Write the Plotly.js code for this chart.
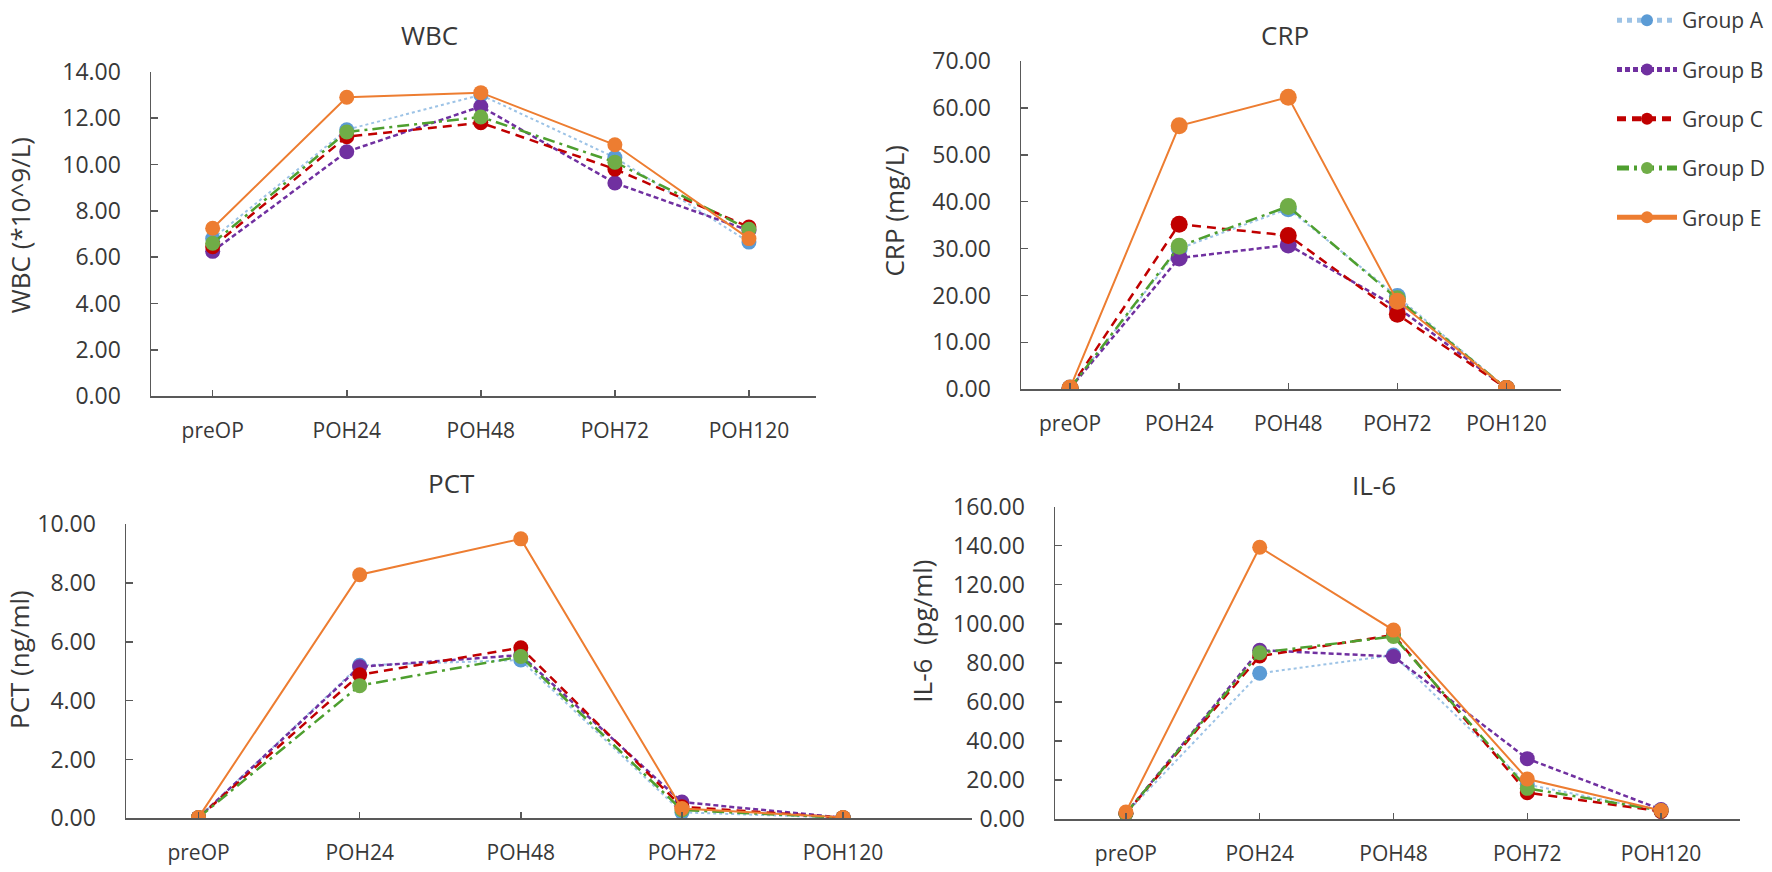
<!DOCTYPE html>
<html>
<head>
<meta charset="utf-8">
<script src="https://cdn.plot.ly/plotly-3.0.1.min.js"></script>
<style>
  html, body { margin: 0; padding: 0; background: #fff; }
  #plotly_div { width: 1772px; height: 872px; }
</style>
</head>
<body>
<div id="plotly_div"></div>
<script>
// values, one row per group (A..E)
const categories = ['preOP', 'POH24', 'POH48', 'POH72', 'POH120'];
const groups = ['Group A', 'Group B', 'Group C', 'Group D', 'Group E'];

const wbc = [
    [6.8, 11.5, 13.0, 10.3, 6.65],
    [6.25, 10.55, 12.5, 9.2, 7.15],
    [6.45, 11.2, 11.8, 9.8, 7.3],
    [6.6, 11.4, 12.05, 10.1, 7.2],
    [7.25, 12.9, 13.1, 10.85, 6.8]
];
const crp = [
    [0.3, 30.0, 38.5, 19.8, 0.2],
    [0.2, 28.0, 30.8, 17.5, 0.2],
    [0.2, 35.2, 32.8, 16.0, 0.2],
    [0.2, 30.5, 39.0, 19.3, 0.2],
    [0.3, 56.2, 62.3, 18.8, 0.2]
];
const pct = [
    [0.02, 5.2, 5.38, 0.2, 0.02],
    [0.02, 5.15, 5.55, 0.55, 0.02],
    [0.02, 4.88, 5.8, 0.39, 0.02],
    [0.02, 4.51, 5.5, 0.28, 0.02],
    [0.03, 8.28, 9.5, 0.33, 0.03]
];
const il6 = [
    [3.0, 74.7, 84.0, 17.8, 4.0],
    [3.0, 86.5, 83.3, 31.0, 5.0],
    [3.0, 83.5, 94.3, 13.6, 4.0],
    [3.0, 85.2, 93.5, 15.8, 4.5],
    [3.7, 139.2, 96.8, 20.6, 4.5]
];

const W = 1772, H = 872;

// series styles
const lineColors = ['#9DC3E6', '#7030A0', '#C00000', '#4E9F2F', '#ED7D31'];
const markerColors = ['#5B9BD5', '#7030A0', '#C00000', '#70AD47', '#ED7D31'];
const dashes = ['dot', '5px,3px', '9px,6px', '12px,5px,3px,5px', 'solid'];
const widths = [2, 2.5, 2.5, 2.5, 2];

// plot boxes in pixels: [left, top, right, bottom]
const panels = [
    {name: 'WBC', ytitle: 'WBC (*10^9/L)', values: wbc, range: [0, 14], dtick: 2,
     box: [151, 53, 816, 385], xrange: [-0.46, 4.5], msize: 15,
     titleX: 429, titleY: 15, ytitleX: 20, ytitleY: 210},
    {name: 'CRP', ytitle: 'CRP (mg/L)', values: crp, range: [0, 70], dtick: 10,
     box: [1021, 42, 1561, 378], xrange: [-0.45, 4.5], msize: 17,
     titleX: 1285, titleY: 15, ytitleX: 894, ytitleY: 196},
    {name: 'PCT', ytitle: 'PCT (ng/ml)', values: pct, range: [0, 10], dtick: 2,
     box: [126, 516, 972, 817], xrange: [-0.45, 4.8], msize: 15,
     titleX: 452, titleY: 474, ytitleX: 19, ytitleY: 655},
    {name: 'IL-6', ytitle: 'IL-6  (pg/ml)', values: il6, range: [0, 160], dtick: 20,
     box: [1055, 498, 1740, 818], xrange: [-0.53, 4.59], msize: 15,
     titleX: 1374, titleY: 476, ytitleX: 922, ytitleY: 626}
];

const textColor = '#383838';
const axisColor = '#595959';
const fontFamily = 'Open Sans, sans-serif';

let data = [];
let layout = {
    width: W,
    height: H,
    margin: {l: 0, r: 0, t: 0, b: 0},
    paper_bgcolor: '#fff',
    plot_bgcolor: '#fff',
    font: {family: fontFamily, color: textColor},
    showlegend: true,
    legend: {
        x: 1612 / W, xanchor: 'left',
        y: 1.024, yanchor: 'top',
        font: {size: 21, color: textColor, family: fontFamily},
        traceorder: 'grouped',
        tracegroupgap: 19,
        itemwidth: 60,
        itemsizing: 'constant',
        bgcolor: 'rgba(0,0,0,0)'
    },
    annotations: []
};

panels.forEach((p, i) => {
    const n = i === 0 ? '' : String(i + 1);
    const [x0, y0, x1, y1] = p.box;

    layout['xaxis' + n] = {
        domain: [x0 / W, x1 / W],
        anchor: 'y' + n,
        type: 'category',
        range: p.xrange,
        showline: true, linecolor: axisColor, linewidth: 1.5,
        ticks: 'inside', ticklen: 6, tickcolor: axisColor, tickwidth: 1.5,
        showgrid: false, zeroline: false,
        tickfont: {size: 21, color: textColor},
        ticklabelstandoff: 15,
        fixedrange: true
    };
    layout['yaxis' + n] = {
        domain: [1 - y1 / H, 1 - y0 / H],
        anchor: 'x' + n,
        range: p.range,
        dtick: p.dtick,
        tickformat: '.2f',
        showline: true, linecolor: axisColor, linewidth: 1.5,
        ticks: 'inside', ticklen: 7, tickcolor: axisColor, tickwidth: 1.5,
        showgrid: false, zeroline: false,
        tickfont: {size: 23, color: textColor},
        ticklabelstandoff: 24,
        fixedrange: true
    };

    layout.annotations.push({
        text: p.name, xref: 'paper', yref: 'paper',
        x: p.titleX / W, y: 1 - p.titleY / H,
        xanchor: 'center', yanchor: 'middle', showarrow: false,
        font: {size: 26, color: textColor}
    });
    layout.annotations.push({
        text: p.ytitle, xref: 'paper', yref: 'paper',
        x: p.ytitleX / W, y: 1 - p.ytitleY / H,
        xanchor: 'center', yanchor: 'middle', showarrow: false,
        textangle: -90,
        font: {size: 26, color: textColor}
    });

    p.values.forEach((vals, g) => {
        data.push({
            x: categories,
            y: vals,
            xaxis: 'x' + n,
            yaxis: 'y' + n,
            type: 'scatter',
            mode: 'lines+markers',
            name: groups[g],
            legendgroup: groups[g],
            showlegend: i === 0,
            line: {color: lineColors[g], dash: dashes[g], width: widths[g]},
            marker: {color: markerColors[g], size: p.msize}
        });
    });
});

Plotly.newPlot('plotly_div', data, layout, {staticPlot: true});
</script>
</body>
</html>
